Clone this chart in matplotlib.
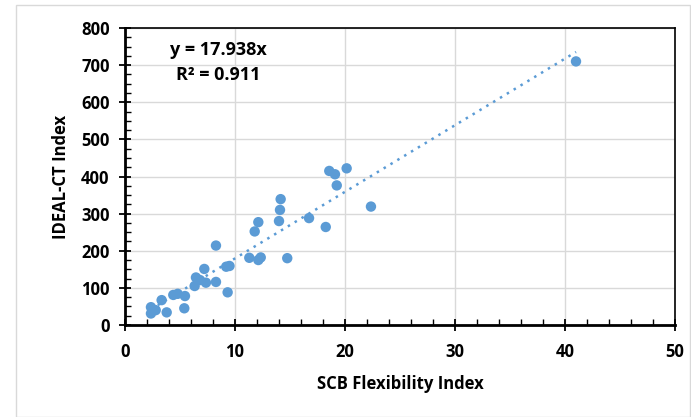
import matplotlib.pyplot as plt
import numpy as np
from matplotlib.patches import Rectangle

# SCB flexibility index vs IDEAL-CT index
scb_fi = [41.0, 20.15, 18.57, 19.09, 19.25, 22.36, 14.15, 14.09, 14.0, 12.12,
          11.79, 16.73, 18.25, 11.3, 12.12, 12.34, 14.75, 8.27, 7.21, 6.45,
          6.82, 7.36, 6.33, 8.27, 9.2, 9.5, 9.33, 4.39, 4.79, 5.45,
          5.39, 3.33, 2.36, 2.36, 2.79, 3.79]
ideal_ct = [710, 422, 415, 406, 376, 319, 339, 310, 280, 277,
            252, 288, 264, 181, 175, 182, 180, 214, 151, 128,
            121, 114, 105, 116, 157, 159, 88, 81, 84, 78,
            45, 67, 48, 31, 40, 34]
slope = 17.938
r_squared = 0.911

blue = '#5B9BD5'

fig = plt.figure(figsize=(6.91, 4.17), dpi=100)
ax = fig.add_axes([125 / 691, 1 - 325 / 417, 550 / 691, 297 / 417])

# Outer chart border
fig.patches.append(Rectangle((16 / 691, 0), 1 - 17 / 691, 1 - 5 / 417,
                             transform=fig.transFigure, fill=False,
                             edgecolor='#D9D9D9', linewidth=1))

# Trend line through origin
x_fit = np.array([min(scb_fi), max(scb_fi)])
ax.plot(x_fit, slope * x_fit, linestyle=(0, (1, 2.2)), color=blue, linewidth=1.8, zorder=2)

ax.scatter(scb_fi, ideal_ct, s=56, color=blue, edgecolors='none', zorder=3)

ax.set_xlim(0, 50)
ax.set_ylim(0, 800)
ax.set_xticks(np.arange(0, 51, 10))
ax.set_yticks(np.arange(0, 801, 100))
ax.set_xticks(np.arange(0, 51, 2), minor=True)
ax.set_yticks(np.arange(0, 801, 25), minor=True)

font = 'Open Sans'
for lbl in ax.get_xticklabels() + ax.get_yticklabels():
    lbl.set_fontfamily(font)
    lbl.set_fontweight('bold')
    lbl.set_fontsize(12)

ax.tick_params(which='major', direction='inout', length=8, width=1.3, color='black')
ax.tick_params(axis='x', which='major', pad=9)
ax.tick_params(axis='y', which='major', pad=7)
ax.tick_params(which='minor', direction='in', length=4, width=1, color='black')

ax.grid(which='major', color='#D9D9D9', linewidth=1)
ax.set_axisbelow(True)
for side in ['left', 'bottom']:
    ax.spines[side].set_linewidth(2)
for side in ['top', 'right']:
    ax.spines[side].set_linewidth(1.2)

ax.set_xlabel('SCB Flexibility Index', fontfamily=font, fontweight='bold', fontsize=12, labelpad=10)
ax.set_ylabel('IDEAL-CT Index', fontfamily=font, fontweight='bold', fontsize=12, labelpad=8)

ax.text(8.45, 741, f'y = {slope}x', fontfamily=font, fontweight='bold', fontsize=13,
        ha='center', va='center')
ax.text(8.45, 673, f'R² = {r_squared}', fontfamily=font, fontweight='bold',
        fontsize=13, ha='center', va='center')

plt.savefig('out.png', dpi=100)
plt.close(fig)
